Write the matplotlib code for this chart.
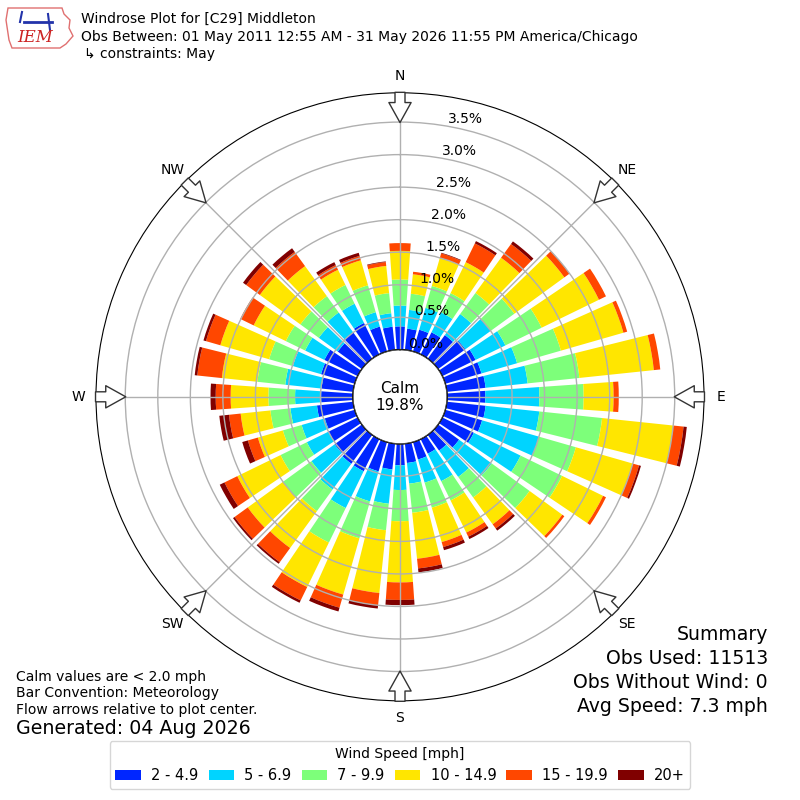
import numpy as np
import matplotlib
matplotlib.use("Agg")
import matplotlib.pyplot as plt
from matplotlib.patches import Circle, Polygon
from matplotlib.lines import Line2D

# ---------------- data ----------------
directions = np.arange(0, 360, 10)
speed_bins = ["2 - 4.9", "5 - 6.9", "7 - 9.9", "10 - 14.9", "15 - 19.9", "20+"]
colors = ["#0026ff", "#00d4ff", "#7dff7a", "#ffe600", "#ff4700", "#800000"]

# percent of observations per direction for each speed bin
bin_2_5 = [0.36, 0.33, 0.35, 0.38, 0.45, 0.52, 0.57, 0.58, 0.60, 0.59, 0.60, 0.59,
           0.54, 0.40, 0.30, 0.25, 0.28, 0.30, 0.33, 0.40, 0.47, 0.55, 0.55, 0.52,
           0.50, 0.48, 0.56, 0.49, 0.49, 0.54, 0.57, 0.46, 0.50, 0.54, 0.40, 0.36]
bin_5_7 = [0.32, 0.29, 0.35, 0.34, 0.40, 0.48, 0.51, 0.57, 0.65, 0.83, 0.83, 0.91,
           0.80, 0.62, 0.50, 0.47, 0.37, 0.32, 0.38, 0.53, 0.48, 0.63, 0.49, 0.44,
           0.37, 0.37, 0.41, 0.40, 0.56, 0.45, 0.33, 0.36, 0.38, 0.33, 0.23, 0.21]
bin_7_10 = [0.40, 0.25, 0.35, 0.33, 0.40, 0.45, 0.62, 0.70, 0.80, 0.68, 0.97, 0.59,
            0.71, 0.72, 0.39, 0.33, 0.40, 0.45, 0.48, 0.41, 0.59, 0.59, 0.41, 0.54,
            0.45, 0.30, 0.31, 0.41, 0.43, 0.38, 0.33, 0.35, 0.31, 0.32, 0.43, 0.31]
bin_10_15 = [0.44, 0.30, 0.45, 0.53, 0.67, 0.95, 0.98, 1.00, 1.15, 0.46, 1.10, 0.91,
             0.70, 0.62, 0.51, 0.55, 0.55, 0.71, 0.94, 0.97, 0.90, 0.76, 0.70, 0.67,
             0.74, 0.40, 0.46, 0.58, 0.55, 0.78, 0.55, 0.77, 0.57, 0.26, 0.40, 0.42]
bin_15_20 = [0.12, 0.04, 0.07, 0.32, 0.26, 0.10, 0.12, 0.06, 0.10, 0.08, 0.16, 0.10,
             0.05, 0.04, 0.08, 0.07, 0.08, 0.15, 0.27, 0.19, 0.21, 0.23, 0.27, 0.25,
             0.22, 0.16, 0.18, 0.23, 0.38, 0.23, 0.23, 0.26, 0.27, 0.08, 0.07, 0.06]
bin_20p = [0.00, 0.00, 0.01, 0.04, 0.05, 0.00, 0.00, 0.00, 0.00, 0.00, 0.05, 0.03,
           0.00, 0.00, 0.04, 0.04, 0.05, 0.06, 0.08, 0.05, 0.06, 0.04, 0.03, 0.03,
           0.08, 0.09, 0.15, 0.08, 0.04, 0.04, 0.00, 0.06, 0.07, 0.05, 0.05, 0.01]
series = [bin_2_5, bin_5_7, bin_7_10, bin_10_15, bin_15_20, bin_20p]

calm_pct = 19.8
rticks = [0.0, 0.5, 1.0, 1.5, 2.0, 2.5, 3.0, 3.5]
compass = ["N", "NE", "E", "SE", "S", "SW", "W", "NW"]

# ---------------- figure ----------------
fig = plt.figure(figsize=(8, 8), dpi=100)
ax = fig.add_axes([0.12, 0.124, 0.76, 0.76], projection="polar")
ax.set_theta_zero_location("N")
ax.set_theta_direction(-1)
rmax = 3.95
ax.set_ylim(0, rmax)
ax.set_rorigin(-0.7226)
ax.set_axisbelow(False)

theta = np.deg2rad(directions)
width = np.deg2rad(10) * 0.8
bottom = np.zeros(len(directions))
for vals, col, lab in zip(series, colors, speed_bins):
    v = np.array(vals)
    ax.bar(theta, v, width=width, bottom=bottom, color=col, edgecolor="none",
           label=lab, zorder=1)
    bottom = bottom + v

ax.set_yticks(rticks)
ax.set_yticklabels([f"{t:.1f}%" for t in rticks], fontsize=10)
ax.set_rlabel_position(10)
ax.set_xticks(np.deg2rad(np.arange(0, 360, 45)))
ax.set_xticklabels([])
ax.grid(True, color="#b0b0b0", linewidth=1.0)
ax.spines["polar"].set_color("black")

# calm circle
calm = Circle((0.5, 0.5), 0.5 * 0.7226 / (rmax + 0.7226), transform=ax.transAxes,
              facecolor="white", edgecolor="black", linewidth=1.2, zorder=6)
ax.add_patch(calm)
ax.text(0.5, 0.5, f"Calm\n{calm_pct:.1f}%", transform=ax.transAxes, ha="center",
        va="center", fontsize=11, zorder=7)

# compass labels and flow arrows
for i, lab in enumerate(compass):
    th = np.deg2rad(i * 45)
    ax.text(th, 4.215, lab, ha="center", va="center", fontsize=10, clip_on=False)
    ax.annotate("", xy=(th, 3.45), xytext=(th, 4.0),
                arrowprops=dict(arrowstyle="simple,head_length=0.9,head_width=1.0,tail_width=0.45",
                                fc="white", ec="#333333", lw=1.0, mutation_scale=16),
                annotation_clip=False, zorder=8)

# header text
fig.text(81 / 800, 1 - 19 / 800, "Windrose Plot for [C29] Middleton", fontsize=10, va="center")
fig.text(81 / 800, 1 - 37 / 800,
         "Obs Between: 01 May 2011 12:55 AM - 31 May 2026 11:55 PM America/Chicago",
         fontsize=10, va="center")
fig.text(84 / 800, 1 - 54 / 800, "\u21b3 constraints: May", fontsize=10, va="center")

# simple logo
logo_x = np.array([8, 62, 64, 70, 69, 73, 66, 60, 12, 9, 6, 8]) / 800
logo_y = 1 - np.array([8, 8, 14, 20, 28, 36, 44, 48, 48, 40, 20, 8]) / 800
fig.add_artist(Polygon(np.column_stack([logo_x, logo_y]), closed=True, fill=False,
                       edgecolor="#e07070", linewidth=1.0, transform=fig.transFigure))
fig.add_artist(Line2D([24 / 800, 52 / 800], [1 - 22 / 800, 1 - 22 / 800], color="#2233aa",
                      lw=2, transform=fig.transFigure))
fig.add_artist(Line2D([22 / 800, 20 / 800], [1 - 12 / 800, 1 - 22 / 800], color="#2233aa",
                      lw=1.5, transform=fig.transFigure))
fig.add_artist(Line2D([48 / 800, 50 / 800], [1 - 14 / 800, 1 - 30 / 800], color="#2233aa",
                      lw=1.5, transform=fig.transFigure))
fig.text(35 / 800, 1 - 38 / 800, "IEM", fontsize=12, color="#cc2222", ha="center",
         va="center", family="DejaVu Serif", style="italic")

# bottom-left notes
fig.text(16 / 800, 1 - 677 / 800, "Calm values are < 2.0 mph", fontsize=10, va="center")
fig.text(16 / 800, 1 - 693 / 800, "Bar Convention: Meteorology", fontsize=10, va="center")
fig.text(16 / 800, 1 - 710 / 800, "Flow arrows relative to plot center.", fontsize=10, va="center")
fig.text(16 / 800, 1 - 729 / 800, "Generated: 04 Aug 2026", fontsize=13.7, va="center")

# summary
summary = ["Summary", "Obs Used: 11513", "Obs Without Wind: 0", "Avg Speed: 7.3 mph"]
for k, s in enumerate(summary):
    fig.text(768 / 800, 1 - (635 + 24 * k) / 800, s, fontsize=13.6, ha="right", va="center")

# legend
handles, labels = ax.get_legend_handles_labels()
leg = fig.legend(handles, labels, loc="center", bbox_to_anchor=(0.5, 1 - 765 / 800),
                 ncol=6, title="Wind Speed [mph]", fontsize=10.5, title_fontsize=10,
                 frameon=True, handlelength=1.75, handletextpad=0.7, columnspacing=0.7)
leg.get_frame().set_edgecolor("#cccccc")

fig.savefig("out.png", dpi=100)
